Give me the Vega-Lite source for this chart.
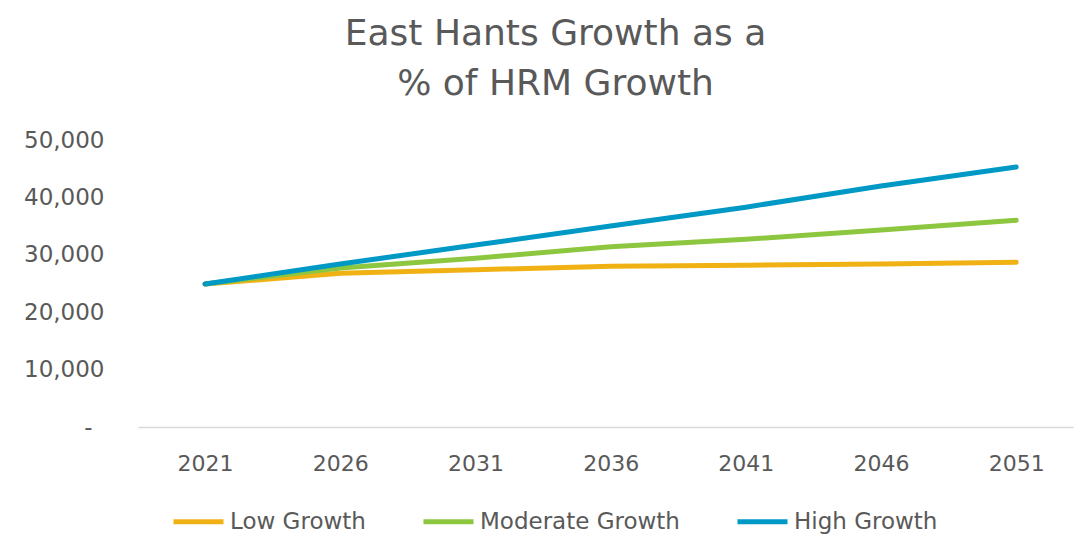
{
  "$schema": "https://vega.github.io/schema/vega-lite/v6.json",
  "autosize": "none",
  "width": 935,
  "height": 287,
  "padding": {"left": 138, "top": 140, "right": 1, "bottom": 107},
  "background": "white",
  "config": {
    "font": "DejaVu Sans",
    "view": {"stroke": null}
  },
  "title": {
    "text": ["East Hants Growth as a", "% of HRM Growth"],
    "fontSize": 36,
    "fontWeight": "normal",
    "color": "#595959",
    "anchor": "middle",
    "frame": "group",
    "dx": -50,
    "offset": 26,
    "lineHeight": 50
  },
  "data": {
    "values": [
      {"year": 2021, "scenario": "Low Growth", "value": 24900},
      {"year": 2026, "scenario": "Low Growth", "value": 26800},
      {"year": 2031, "scenario": "Low Growth", "value": 27400},
      {"year": 2036, "scenario": "Low Growth", "value": 28000},
      {"year": 2041, "scenario": "Low Growth", "value": 28200},
      {"year": 2046, "scenario": "Low Growth", "value": 28400},
      {"year": 2051, "scenario": "Low Growth", "value": 28700},
      {"year": 2021, "scenario": "Moderate Growth", "value": 24900},
      {"year": 2026, "scenario": "Moderate Growth", "value": 27700},
      {"year": 2031, "scenario": "Moderate Growth", "value": 29400},
      {"year": 2036, "scenario": "Moderate Growth", "value": 31400},
      {"year": 2041, "scenario": "Moderate Growth", "value": 32700},
      {"year": 2046, "scenario": "Moderate Growth", "value": 34300},
      {"year": 2051, "scenario": "Moderate Growth", "value": 36000},
      {"year": 2021, "scenario": "High Growth", "value": 24900},
      {"year": 2026, "scenario": "High Growth", "value": 28400},
      {"year": 2031, "scenario": "High Growth", "value": 31700},
      {"year": 2036, "scenario": "High Growth", "value": 35000},
      {"year": 2041, "scenario": "High Growth", "value": 38300},
      {"year": 2046, "scenario": "High Growth", "value": 42000},
      {"year": 2051, "scenario": "High Growth", "value": 45300}
    ]
  },
  "mark": {"type": "line", "strokeWidth": 5, "strokeCap": "round", "strokeJoin": "round"},
  "encoding": {
    "x": {
      "field": "year",
      "type": "quantitative",
      "scale": {"domain": [2018.52, 2053.1], "nice": false, "zero": false},
      "axis": {
        "title": null,
        "values": [2021, 2026, 2031, 2036, 2041, 2046, 2051],
        "format": "d",
        "grid": false,
        "ticks": false,
        "domainColor": "#d9d9d9",
        "domainWidth": 1.5,
        "labelFontSize": 22,
        "labelColor": "#595959",
        "labelPadding": 26,
        "labelFlush": false
      }
    },
    "y": {
      "field": "value",
      "type": "quantitative",
      "scale": {"domain": [0, 50000], "nice": false},
      "axis": {
        "title": null,
        "values": [0, 10000, 20000, 30000, 40000, 50000],
        "grid": false,
        "ticks": false,
        "domain": false,
        "labelFontSize": 23,
        "labelColor": "#595959",
        "labelPadding": {"condition": {"test": "datum.value == 0", "value": 46}, "value": 34},
        "labelExpr": "datum.value == 0 ? '-' : format(datum.value, ',')"
      }
    },
    "color": {
      "field": "scenario",
      "type": "nominal",
      "scale": {
        "domain": ["Low Growth", "Moderate Growth", "High Growth"],
        "range": ["#F0B114", "#8DC63F", "#0099C6"]
      },
      "legend": {
        "title": null,
        "orient": "none",
        "direction": "horizontal",
        "legendX": 33,
        "legendY": 354,
        "symbolType": "stroke",
        "symbolSize": 2500,
        "symbolStrokeWidth": 5,
        "labelFontSize": 23,
        "labelColor": "#595959",
        "labelOffset": 4,
        "labelLimit": 400,
        "columnPadding": 47
      }
    }
  }
}
